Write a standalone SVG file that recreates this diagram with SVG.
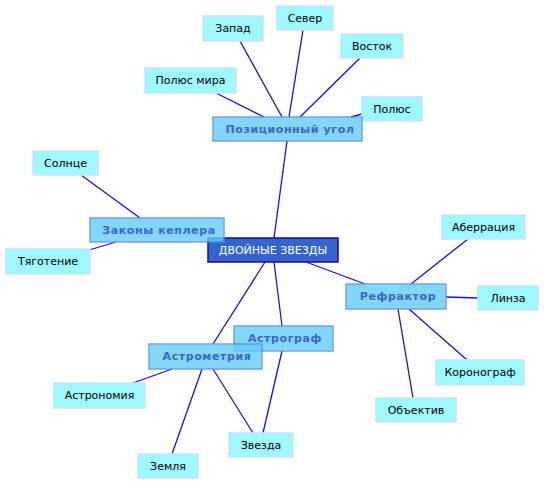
<svg xmlns="http://www.w3.org/2000/svg" width="544" height="485" viewBox="0 0 544 485">
<style>
.leaf rect{fill:#a0f8ff;stroke:#c8e4fa;stroke-width:1.5}
.leaf text{font-family:"DejaVu Sans",sans-serif;font-size:11px;fill:#000;text-anchor:middle}
.cat rect{fill:#66ccf5;stroke:#4f8fe8;stroke-width:1.5;opacity:0.8}
.cat text{font-family:"DejaVu Sans",sans-serif;font-size:11px;font-weight:bold;fill:#3a66cc;text-anchor:middle;letter-spacing:0.6px}
.center rect{fill:#3366cc;stroke:#330099;stroke-width:1.5}
.center text{font-family:"DejaVu Sans",sans-serif;font-size:11px;fill:#fff;text-anchor:middle}
#connectors line{stroke:#1010ee;stroke-width:1.3}
</style>
<rect width="544" height="485" fill="#fff"/>
<g id="connectors">
<line x1="287" y1="141" x2="274" y2="238"/>
<line x1="240" y1="41" x2="282" y2="117"/>
<line x1="303" y1="30" x2="289" y2="117"/>
<line x1="360" y1="58" x2="300" y2="117"/>
<line x1="216" y1="93" x2="264" y2="117"/>
<line x1="362" y1="114" x2="351" y2="117"/>
<line x1="81" y1="175" x2="140" y2="218"/>
<line x1="89" y1="250" x2="116" y2="242"/>
<line x1="306" y1="262" x2="365" y2="284"/>
<line x1="411" y1="284" x2="468" y2="239"/>
<line x1="446" y1="297" x2="478" y2="298"/>
<line x1="409" y1="309" x2="467" y2="360"/>
<line x1="398" y1="309" x2="413" y2="398"/>
<line x1="265" y1="262" x2="213" y2="344"/>
<line x1="274" y1="262" x2="282" y2="326"/>
<line x1="282" y1="351" x2="263" y2="433"/>
<line x1="172" y1="369" x2="133" y2="383"/>
<line x1="202" y1="369" x2="172" y2="454"/>
<line x1="213" y1="369" x2="253" y2="433"/>
</g>
<g id="zapad" class="leaf"><rect x="203" y="16" width="60" height="25"/><text x="233" y="32">Запад</text></g>
<g id="sever" class="leaf"><rect x="277" y="6" width="56" height="24"/><text x="305" y="22">Север</text></g>
<g id="vostok" class="leaf"><rect x="341" y="34" width="62" height="24"/><text x="372" y="50">Восток</text></g>
<g id="polus-mira" class="leaf"><rect x="145" y="68" width="91" height="25"/><text x="190.5" y="84">Полюс мира</text></g>
<g id="polus" class="leaf"><rect x="362" y="97" width="60" height="24"/><text x="392" y="113">Полюс</text></g>
<g id="solnce" class="leaf"><rect x="33" y="151" width="65" height="24"/><text x="65.5" y="167">Солнце</text></g>
<g id="tyagotenie" class="leaf"><rect x="6" y="249" width="84" height="25"/><text x="48" y="265">Тяготение</text></g>
<g id="aberraciya" class="leaf"><rect x="442" y="215" width="83" height="24"/><text x="483.5" y="231">Аберрация</text></g>
<g id="linza" class="leaf"><rect x="478" y="286" width="60" height="24"/><text x="508" y="302">Линза</text></g>
<g id="koronograf" class="leaf"><rect x="436" y="360" width="88" height="25"/><text x="480" y="376">Коронограф</text></g>
<g id="obektiv" class="leaf"><rect x="376" y="398" width="80" height="24"/><text x="416" y="414">Объектив</text></g>
<g id="astronomiya" class="leaf"><rect x="54" y="383" width="91" height="25"/><text x="99.5" y="399">Астрономия</text></g>
<g id="zvezda" class="leaf"><rect x="229" y="433" width="64" height="24"/><text x="261" y="449">Звезда</text></g>
<g id="zemlya" class="leaf"><rect x="138" y="454" width="60" height="24"/><text x="168" y="470">Земля</text></g>
<g id="center" class="center"><rect x="208" y="238" width="130" height="24"/><text x="273" y="254">ДВОЙНЫЕ ЗВЕЗДЫ</text></g>
<g id="pozicionnyi-ugol" class="cat"><rect x="213" y="117" width="149" height="24"/><text x="290" y="133">Позиционный угол</text></g>
<g id="zakony-keplera" class="cat"><rect x="90" y="218" width="134" height="24"/><text x="159" y="234">Законы кеплера</text></g>
<g id="refraktor" class="cat"><rect x="346" y="284" width="100" height="25"/><text x="398" y="300">Рефрактор</text></g>
<g id="astrograf" class="cat"><rect x="234" y="326" width="99" height="25"/><text x="285" y="342">Астрограф</text></g>
<g id="astrometriya" class="cat"><rect x="149" y="344" width="113" height="25"/><text x="207" y="360">Астрометрия</text></g>
</svg>
